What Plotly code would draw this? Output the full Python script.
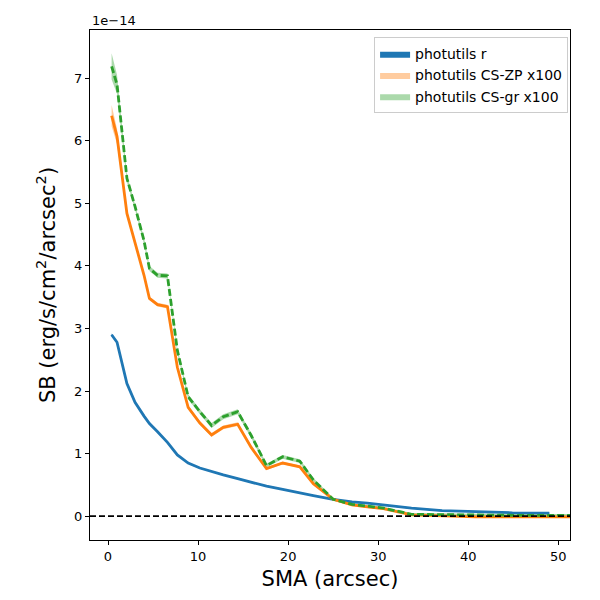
"""
Surface brightness profiles (photutils isophote fits) vs semi-major axis
"""

import plotly.graph_objects as go

# SB values are in units of 1e-14 erg/s/cm^2/arcsec^2
sma_r = [0.4, 1.0, 2.1, 3.0, 4.0, 4.6, 5.5, 6.6, 7.7, 8.9, 10.2, 11.5, 12.8, 14.4,
         15.9, 17.6, 19.4, 21.3, 22.8, 25.0, 27.1, 28.8, 30.6, 33.7, 37.1, 40.8,
         44.9, 49.0]
sb_r = [2.90, 2.78, 2.12, 1.82, 1.60, 1.48, 1.35, 1.18, 0.98, 0.85, 0.77, 0.71,
        0.66, 0.60, 0.54, 0.48, 0.43, 0.38, 0.33, 0.27, 0.23, 0.21, 0.18, 0.13,
        0.09, 0.07, 0.055, 0.05]
err_r = [0.02, 0.02, 0.015, 0.015, 0.01, 0.01, 0.01, 0.01, 0.01, 0.01, 0.01, 0.01,
         0.01, 0.01, 0.01, 0.01, 0.01, 0.01, 0.01, 0.01, 0.01, 0.01, 0.01, 0.01,
         0.01, 0.01, 0.01, 0.01]

sma_cs = [0.4, 1.0, 2.1, 3.0, 4.0, 4.6, 5.5, 6.6, 7.7, 8.9, 10.2, 11.5, 12.8, 14.4,
          15.9, 17.6, 19.4, 21.3, 22.8, 25.0, 27.1, 28.8, 30.6, 33.7, 37.1, 40.8,
          44.9, 49.0, 53.9]
sb_zp = [6.40, 6.07, 4.84, 4.38, 3.85, 3.48, 3.38, 3.35, 2.38, 1.74, 1.49, 1.30,
         1.42, 1.47, 1.10, 0.76, 0.85, 0.79, 0.52, 0.27, 0.18, 0.15, 0.12, 0.02,
         0.0, -0.01, -0.01, -0.01, -0.01]
err_zp = [0.17, 0.12, 0.05, 0.04, 0.04, 0.03, 0.03, 0.03, 0.03, 0.03, 0.03, 0.03,
          0.03, 0.03, 0.03, 0.02, 0.02, 0.02, 0.02, 0.02, 0.02, 0.02, 0.02, 0.01,
          0.01, 0.01, 0.01, 0.01, 0.01]
sb_gr = [7.19, 6.90, 5.40, 4.95, 4.40, 3.96, 3.85, 3.84, 2.65, 1.91, 1.67, 1.45,
         1.59, 1.67, 1.29, 0.81, 0.95, 0.88, 0.58, 0.27, 0.19, 0.16, 0.13, 0.03,
         0.02, 0.02, 0.015, 0.015, 0.015]
err_gr = [0.21, 0.15, 0.06, 0.05, 0.05, 0.04, 0.04, 0.04, 0.04, 0.04, 0.04, 0.04,
          0.04, 0.04, 0.04, 0.03, 0.03, 0.03, 0.03, 0.02, 0.02, 0.02, 0.02, 0.02,
          0.02, 0.02, 0.02, 0.02, 0.02]

FONT = "DejaVu Sans"


def band(x, y, e, color, name):
    up = [a + b for a, b in zip(y, e)]
    lo = [a - b for a, b in zip(y, e)]
    return go.Scatter(x=list(x) + list(x)[::-1], y=up + lo[::-1], fill="toself",
                      fillcolor=color, mode="lines", line=dict(width=0, color=color),
                      name=name, hoverinfo="skip")


fig = go.Figure()
fig.add_trace(band(sma_r, sb_r, err_r, "#1f77b4", "photutils r"))
fig.add_trace(band(sma_cs, sb_zp, err_zp, "rgba(255,127,14,0.4)", "photutils CS-ZP x100"))
fig.add_trace(band(sma_cs, sb_gr, err_gr, "rgba(44,160,44,0.4)", "photutils CS-gr x100"))

fig.add_trace(go.Scatter(x=sma_r, y=sb_r, mode="lines", showlegend=False,
                         line=dict(color="#1f77b4", width=2.8)))
fig.add_trace(go.Scatter(x=sma_cs, y=sb_zp, mode="lines", showlegend=False,
                         line=dict(color="#ff7f0e", width=2.8)))
fig.add_trace(go.Scatter(x=sma_cs, y=sb_gr, mode="lines", showlegend=False,
                         line=dict(color="#2ca02c", width=2.8, dash="7px,3px")))

fig.add_hline(y=0, line=dict(color="black", width=1.8, dash="6px,3px"))

axis = dict(showgrid=False, zeroline=False, showline=True, linecolor="black",
            linewidth=1.2, mirror=True, ticks="outside", ticklen=4, tickcolor="black",
            tickfont=dict(family=FONT, size=13, color="black"))

fig.update_xaxes(range=[-2, 51.3], tickvals=[0, 10, 20, 30, 40, 50],
                 title=dict(text="SMA (arcsec)", font=dict(family=FONT, size=21, color="black"),
                            standoff=8), **axis)
fig.update_yaxes(range=[-0.38, 7.77], tickvals=[0, 1, 2, 3, 4, 5, 6, 7],
                 title=dict(text="SB (erg/s/cm<sup>2</sup>/arcsec<sup>2</sup>)",
                            font=dict(family=FONT, size=21, color="black"), standoff=12),
                 **axis)

fig.add_annotation(text="1e\u221214", xref="paper", yref="paper", x=0, y=1,
                   xanchor="left", yanchor="bottom", showarrow=False,
                   font=dict(family=FONT, size=13, color="black"))

# page body adds 8px offset, so margins are shifted to land the axes where the reference has them
fig.update_layout(
    width=600, height=600, plot_bgcolor="white", paper_bgcolor="white",
    margin=dict(l=82, r=38, t=22, b=68),
    legend=dict(x=0.996, y=0.986, xanchor="right", yanchor="top",
                bgcolor="rgba(255,255,255,0.8)", bordercolor="#cccccc", borderwidth=1,
                font=dict(family=FONT, size=14, color="black")),
)

fig.write_html("out.html")
